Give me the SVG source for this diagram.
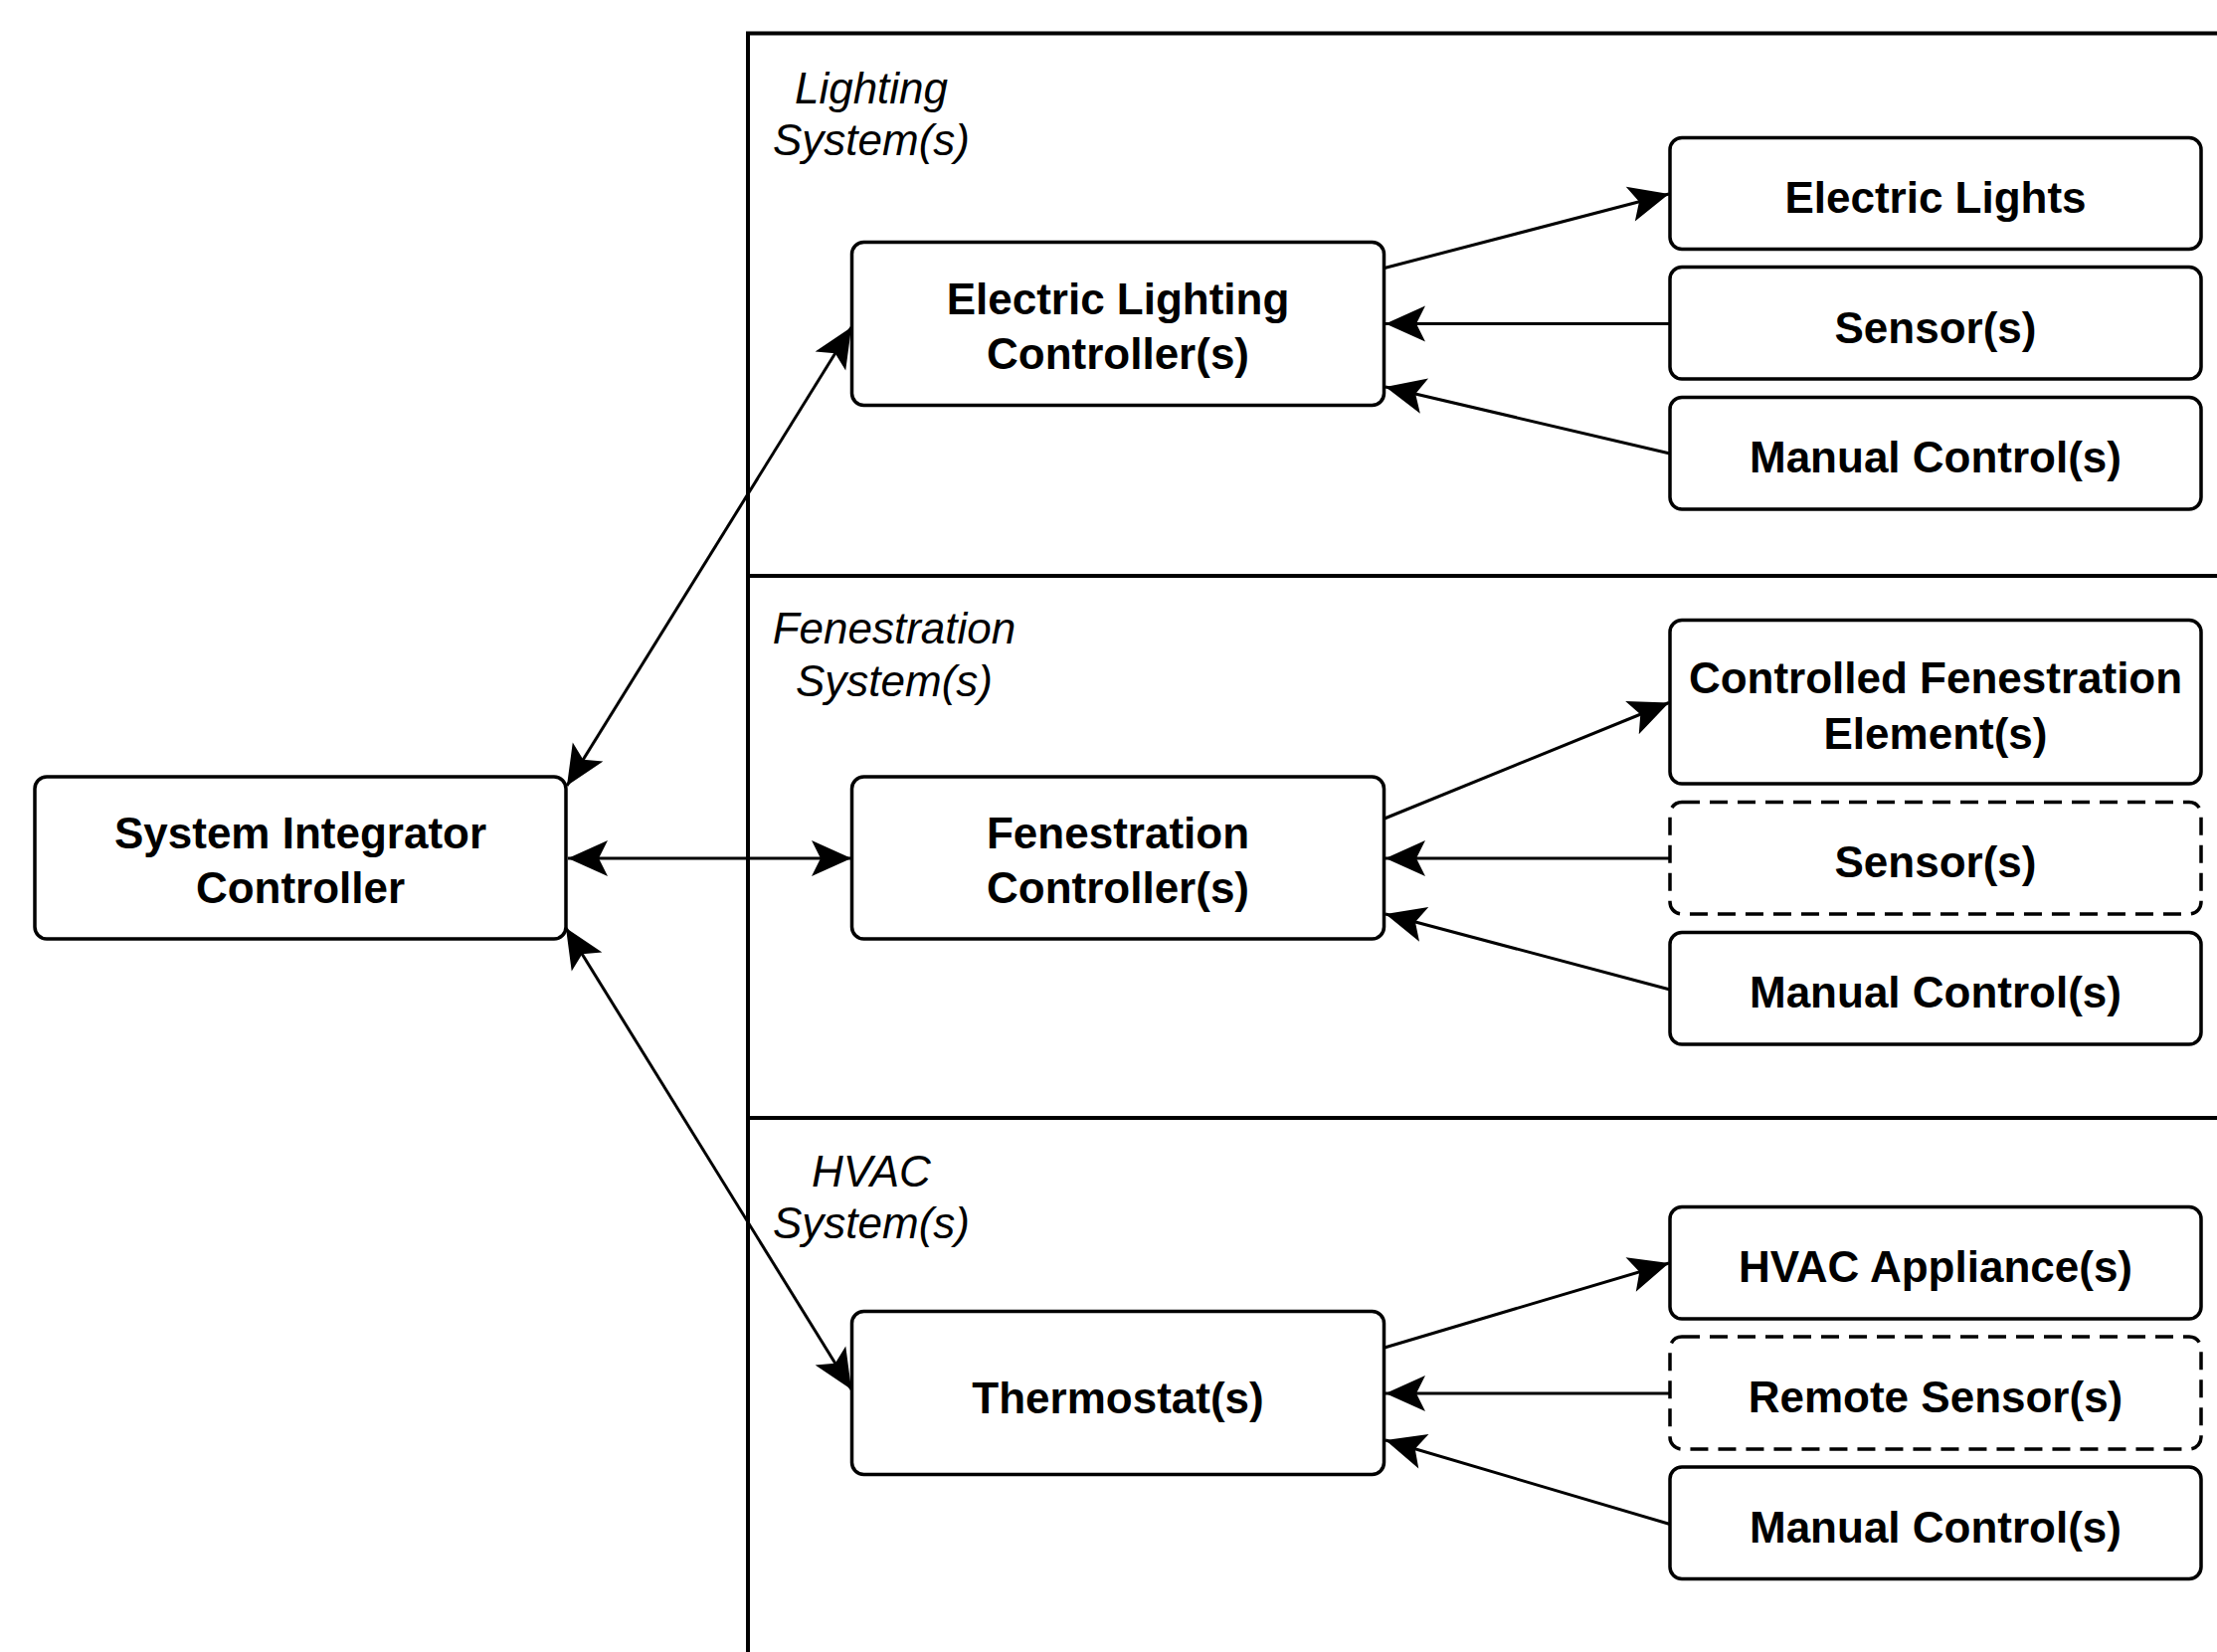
<svg xmlns="http://www.w3.org/2000/svg" width="2229" height="1661" viewBox="0 0 2229 1661">
<style>
.frame{stroke:#000;stroke-width:4;fill:none}
.box{fill:#fff;stroke:#000;stroke-width:3.5}
.dash{stroke-dasharray:18 10}
.lbl{font-family:"Liberation Sans",Arial,sans-serif;font-size:44px;font-weight:bold;text-anchor:middle;fill:#000}
.grp{font-family:"Liberation Sans",Arial,sans-serif;font-size:44px;font-style:italic;text-anchor:middle;fill:#000}
.c{stroke:#000;stroke-width:3;fill:none;marker-end:url(#arr)}
.bi{marker-start:url(#arr)}
</style>
<defs>
<marker id="arr" viewBox="-42 -20 44 40" refX="0" refY="0" markerWidth="44" markerHeight="40" markerUnits="userSpaceOnUse" orient="auto-start-reverse">
<path d="M0,0 L-40,-18 L-31,0 L-40,18 Z" fill="#000"/>
</marker>
</defs>
<rect width="2229" height="1661" fill="#fff"/>
<g id="frame">
<path class="frame" d="M752,1661 V33.5 H2229 M752,579 H2229 M752,1124 H2229"/>
<text class="grp" x="876" y="104">Lighting</text>
<text class="grp" x="876" y="156">System(s)</text>
<text class="grp" x="899" y="647">Fenestration</text>
<text class="grp" x="899" y="700">System(s)</text>
<text class="grp" x="876" y="1193">HVAC</text>
<text class="grp" x="876" y="1245">System(s)</text>
</g>
<g id="connectors">
<line class="c bi" x1="570" y1="790" x2="856" y2="329"/>
<line class="c bi" x1="571" y1="863" x2="856" y2="863"/>
<line class="c bi" x1="569" y1="933" x2="856" y2="1397"/>
<line class="c" x1="1392" y1="269.5" x2="1678" y2="195"/>
<line class="c" x1="1679" y1="325.5" x2="1393" y2="325.5"/>
<line class="c" x1="1679" y1="456" x2="1393" y2="389"/>
<line class="c" x1="1392" y1="823" x2="1678" y2="706.5"/>
<line class="c" x1="1679" y1="863" x2="1393" y2="863"/>
<line class="c" x1="1679" y1="995" x2="1393" y2="919"/>
<line class="c" x1="1392" y1="1355" x2="1678" y2="1270"/>
<line class="c" x1="1679" y1="1401" x2="1393" y2="1401"/>
<line class="c" x1="1679" y1="1532.5" x2="1393" y2="1448"/>
</g>
<g id="system-integrator">
<rect class="box" x="35" y="781" width="534" height="163" rx="12"/>
<text class="lbl" x="302" y="853">System Integrator</text>
<text class="lbl" x="302" y="908">Controller</text>
</g>
<g id="lighting-controller">
<rect class="box" x="856.5" y="243.5" width="535" height="164" rx="12"/>
<text class="lbl" x="1124" y="316">Electric Lighting</text>
<text class="lbl" x="1124" y="371">Controller(s)</text>
</g>
<g id="fenestration-controller">
<rect class="box" x="856.5" y="781" width="535" height="163" rx="12"/>
<text class="lbl" x="1124" y="853">Fenestration</text>
<text class="lbl" x="1124" y="908">Controller(s)</text>
</g>
<g id="thermostat">
<rect class="box" x="856.5" y="1318.5" width="535" height="164" rx="12"/>
<text class="lbl" x="1124" y="1421">Thermostat(s)</text>
</g>
<g id="electric-lights">
<rect class="box" x="1679" y="138.5" width="534" height="112" rx="12"/>
<text class="lbl" x="1946" y="214">Electric Lights</text>
</g>
<g id="lighting-sensors">
<rect class="box" x="1679" y="268.5" width="534" height="112.5" rx="12"/>
<text class="lbl" x="1946" y="345">Sensor(s)</text>
</g>
<g id="lighting-manual">
<rect class="box" x="1679" y="399.5" width="534" height="112.5" rx="12"/>
<text class="lbl" x="1946" y="475">Manual Control(s)</text>
</g>
<g id="fenestration-elements">
<rect class="box" x="1679" y="623.5" width="534" height="164.5" rx="12"/>
<text class="lbl" x="1946" y="697">Controlled Fenestration</text>
<text class="lbl" x="1946" y="752.5">Element(s)</text>
</g>
<g id="fenestration-sensors">
<rect class="box dash" x="1679" y="806.5" width="534" height="112.5" rx="12"/>
<text class="lbl" x="1946" y="882">Sensor(s)</text>
</g>
<g id="fenestration-manual">
<rect class="box" x="1679" y="937.5" width="534" height="112.5" rx="12"/>
<text class="lbl" x="1946" y="1013">Manual Control(s)</text>
</g>
<g id="hvac-appliances">
<rect class="box" x="1679" y="1213.5" width="534" height="112.5" rx="12"/>
<text class="lbl" x="1946" y="1289">HVAC Appliance(s)</text>
</g>
<g id="hvac-remote-sensors">
<rect class="box dash" x="1679" y="1344" width="534" height="113" rx="12"/>
<text class="lbl" x="1946" y="1420">Remote Sensor(s)</text>
</g>
<g id="hvac-manual">
<rect class="box" x="1679" y="1475" width="534" height="112.5" rx="12"/>
<text class="lbl" x="1946" y="1551">Manual Control(s)</text>
</g>
</svg>
